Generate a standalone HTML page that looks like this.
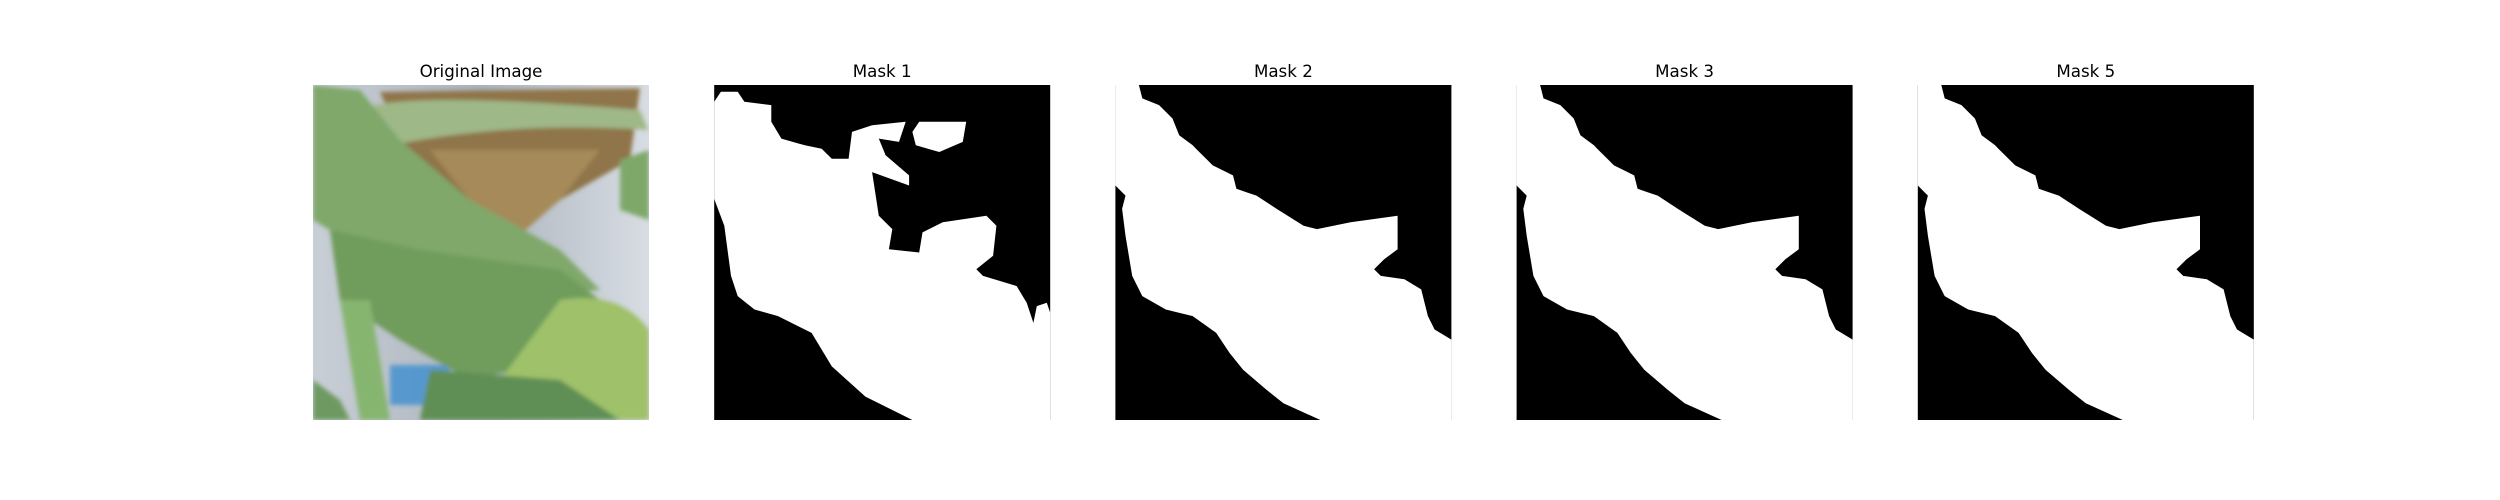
<!DOCTYPE html>
<html><head><meta charset="utf-8"><style>
html,body{margin:0;padding:0;background:#fff;}
svg{display:block;}
text{font-family:"DejaVu Sans","Liberation Sans",sans-serif;font-size:16.7px;fill:#000;}
</style></head><body>
<svg id="fig" width="2500" height="500" viewBox="0 0 2500 500" xmlns="http://www.w3.org/2000/svg">
<defs>
<filter id="blur2"><feGaussianBlur stdDeviation="2"/></filter>
<clipPath id="clip0"><rect x="313" y="85" width="336" height="335"/></clipPath>
<linearGradient id="bg0" x1="0" y1="0" x2="1" y2="0">
<stop offset="0" stop-color="#c9cfd6"/><stop offset="0.5" stop-color="#aab3bd"/><stop offset="1" stop-color="#d8dde3"/>
</linearGradient>
</defs>
<g id="panel-original" clip-path="url(#clip0)">
<rect x="313" y="85" width="336" height="335" fill="url(#bg0)"/>
<g filter="url(#blur2)">
<path d="M380 92 L640 88 L630 160 L560 200 L520 230 L470 220 L420 180 Z" fill="#8f7548"/>
<path d="M430 150 L600 150 L560 200 L520 235 L500 230 L470 200 Z" fill="#a68a5a"/>
<rect x="390" y="365" width="60" height="40" fill="#3f8fd0" opacity="0.8"/>
<path d="M330 100 L360 110 Q400 90 640 110 L648 130 Q500 120 370 150 Z" fill="#9fb887"/>
<path d="M313 85 L360 90 L400 140 L470 200 L560 250 L600 290 L470 300 L380 260 L313 220 Z" fill="#7fa86a"/>
<path d="M330 230 L420 250 L560 270 L600 300 L560 360 L470 380 L400 340 L340 300 Z" fill="#6f9c5c"/>
<path d="M560 300 Q620 290 649 330 L649 420 L560 420 L500 380 Z" fill="#9fc16a"/>
<path d="M430 370 L560 380 L620 420 L420 420 Z" fill="#5f8f55"/>
<path d="M340 300 L370 300 L390 420 L360 420 Z" fill="#86b56f"/>
<path d="M313 380 L340 400 L350 420 L313 420 Z" fill="#6e9a62"/>
<path d="M620 160 L649 150 L649 220 L620 210 Z" fill="#7ea86a"/>
</g>
</g>
<g id="panels"></g>
</svg>
<script>
const titles = ["Original Image","Mask 1","Mask 2","Mask 3","Mask 5"];
const mask1Main = [[0,0.05],[0.02,0.02],[0.07,0.02],[0.09,0.05],[0.17,0.06],[0.17,0.11],[0.2,0.16],[0.27,0.18],[0.32,0.19],[0.35,0.22],[0.40,0.22],[0.41,0.14],[0.47,0.12],[0.57,0.11],[0.55,0.17],[0.49,0.16],[0.51,0.21],[0.58,0.27],[0.58,0.30],[0.47,0.26],[0.49,0.39],[0.53,0.43],[0.52,0.49],[0.61,0.50],[0.62,0.44],[0.68,0.41],[0.81,0.39],[0.84,0.42],[0.83,0.51],[0.78,0.55],[0.80,0.57],[0.90,0.60],[0.93,0.65],[0.95,0.71],[0.96,0.66],[0.99,0.65],[1,0.68],[1,1],[0.59,1],[0.45,0.93],[0.35,0.84],[0.29,0.74],[0.19,0.69],[0.12,0.67],[0.07,0.63],[0.05,0.57],[0.03,0.42],[0,0.34]];
const mask1Blob = [[0.61,0.11],[0.75,0.11],[0.74,0.17],[0.67,0.20],[0.6,0.18],[0.59,0.14]];
const maskBase = [[0,0],[0.07,0],[0.08,0.04],[0.13,0.06],[0.17,0.1],[0.19,0.15],[0.23,0.18],[0.24,0.19],[0.29,0.24],[0.35,0.27],[0.36,0.31],[0.39,0.32],[0.42,0.33],[0.48,0.37],[0.56,0.42],[0.60,0.43],[0.70,0.41],[0.84,0.39],[0.84,0.49],[0.80,0.52],[0.77,0.55],[0.79,0.57],[0.86,0.58],[0.91,0.61],[0.93,0.69],[0.95,0.73],[1.0,0.76],[1,1],[0.61,1],[0.50,0.95],[0.45,0.91],[0.38,0.85],[0.34,0.8],[0.30,0.74],[0.23,0.69],[0.15,0.67],[0.08,0.63],[0.05,0.57],[0.03,0.45],[0.02,0.37],[0.03,0.33],[0,0.30]];
const masks = [null,[mask1Main,mask1Blob],[maskBase],[maskBase],[maskBase]];
const NS="http://www.w3.org/2000/svg";
const panelsG=document.getElementById('panels');
const leftX=313, stepX=401.2, topY=85, PW=336, PH=335;
function px(i,p){return (leftX+stepX*i+p[0]*PW).toFixed(1)+','+(topY+p[1]*PH).toFixed(1);}
for(let i=0;i<titles.length;i++){
  const t=document.createElementNS(NS,'text');
  
  
  t.setAttribute('x',leftX+stepX*i+PW/2);
  t.setAttribute('y',77);
  t.setAttribute('text-anchor','middle');
  t.textContent=titles[i];
  panelsG.appendChild(t);
  if(!masks[i]) continue;
  const r=document.createElementNS(NS,'rect');
  
  
  r.setAttribute('x',leftX+stepX*i);r.setAttribute('y',topY);
  r.setAttribute('width',PW);r.setAttribute('height',PH);r.setAttribute('fill','#000');
  panelsG.appendChild(r);
  masks[i].forEach(poly=>{
    const p=document.createElementNS(NS,'polygon');
    
    
    p.setAttribute('points',poly.map(q=>px(i,q)).join(' '));
    p.setAttribute('fill','#fff');
    panelsG.appendChild(p);
  });
}
</script>
</body></html>
